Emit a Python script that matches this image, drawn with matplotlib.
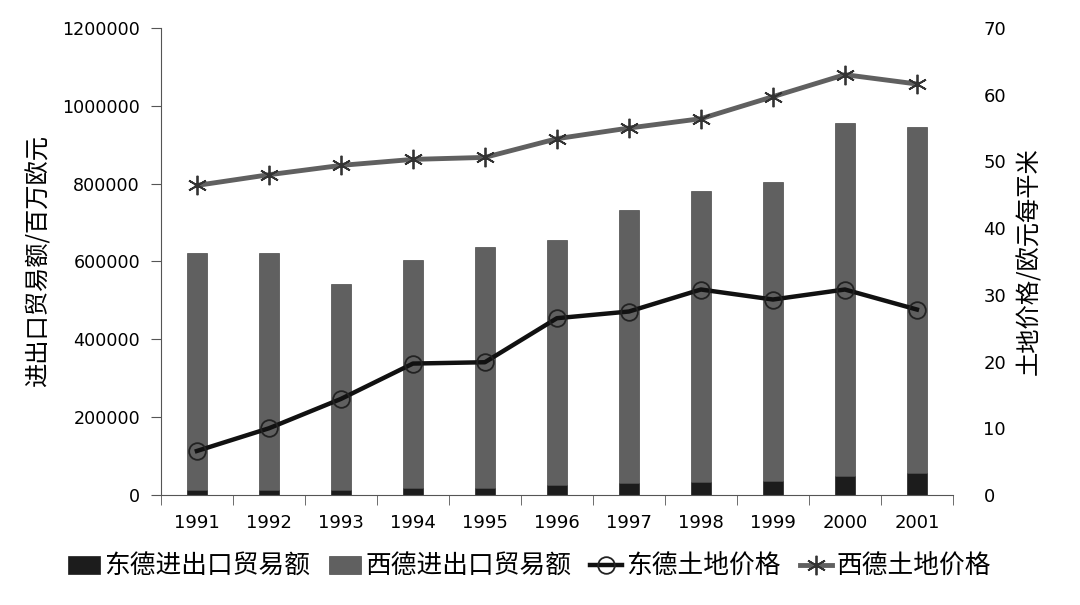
import matplotlib
matplotlib.use('Agg')
import numpy as np
import matplotlib.pyplot as plt
from matplotlib.ticker import FuncFormatter

plt.rcParams['font.family'] = ['DejaVu Sans', 'Noto Sans CJK SC']

years = ['1991', '1992', '1993', '1994', '1995', '1996', '1997', '1998', '1999', '2000', '2001']
# trade volume, million euro (stacked: east at bottom)
east_trade = [14000, 14000, 14000, 17000, 19000, 26000, 30000, 33000, 36000, 50000, 57000]
west_trade = [609000, 609000, 529000, 588000, 619000, 630000, 703000, 749000, 767000, 906000, 889000]
# land price, euro per m2
east_price = [6.6, 10.0, 14.4, 19.7, 19.9, 26.5, 27.5, 30.8, 29.3, 30.8, 27.8]
west_price = [46.4, 48.0, 49.4, 50.3, 50.6, 53.4, 55.0, 56.4, 59.7, 63.0, 61.6]

cjk = ['Noto Sans CJK SC', 'DejaVu Sans']
x = np.arange(len(years))

fig = plt.figure(figsize=(10.8, 6.05), dpi=100)
ax = fig.add_axes([0.149, 0.1818, 0.7333, 0.772])

b1 = ax.bar(x, east_trade, width=0.28, color='#1c1c1c', edgecolor='#1c1c1c', linewidth=0.5,
            label='东德进出口贸易额')
b2 = ax.bar(x, west_trade, width=0.28, bottom=east_trade, color='#606060', edgecolor='#4a4a4a',
            linewidth=0.5, label='西德进出口贸易额')
ax.set_ylim(0, 1200000)
ax.set_xlim(-0.5, len(years) - 0.5)
ax.set_yticks(np.arange(0, 1200001, 200000))
ax.yaxis.set_major_formatter(FuncFormatter(lambda v, p: '%d' % v))
ax.set_xticks(x)
ax.set_xticklabels(years)
ax.set_xticks(np.arange(-0.5, len(years), 1), minor=True)
ax.tick_params(axis='x', which='major', length=0, pad=14, labelsize=13)
ax.tick_params(axis='x', which='minor', length=7, direction='out', color='#555555')
ax.tick_params(axis='y', length=7, direction='out', labelsize=12.6, pad=8, color='#555555')
for s in ['top', 'right']:
    ax.spines[s].set_visible(False)
ax.spines['left'].set_color('#555555')
ax.spines['bottom'].set_color('#555555')
ax.set_ylabel('进出口贸易额/百万欧元', fontsize=17.5, labelpad=8, family=cjk)

ax2 = ax.twinx()
l1, = ax2.plot(x, east_price, color='#111111', linewidth=3.2, marker='o', markersize=12,
               markerfacecolor='none', markeredgecolor='#222222', markeredgewidth=1.3,
               label='东德土地价格')
l2, = ax2.plot(x, west_price, color='#606060', linewidth=3.5, marker=(6, 2, 0), markersize=14,
               markeredgecolor='#333333', markeredgewidth=1.3, label='西德土地价格')
ax2.set_ylim(0, 70)
ax2.set_yticks(np.arange(0, 71, 10))
ax2.tick_params(axis='y', length=0, pad=22, labelsize=13)
for s in ['top', 'right', 'left', 'bottom']:
    ax2.spines[s].set_visible(False)
ax2.set_ylabel('土地价格/欧元每平米', fontsize=17.5, rotation=90, labelpad=7, family=cjk)

fig.legend(handles=[b1, b2, l1, l2], loc='center', bbox_to_anchor=(0.49, 0.063),
           ncol=4, frameon=False, handlelength=1.25, handletextpad=0.15,
           columnspacing=0.75, prop={'family': cjk, 'size': 18.5})

fig.savefig('out.png', dpi=100)
